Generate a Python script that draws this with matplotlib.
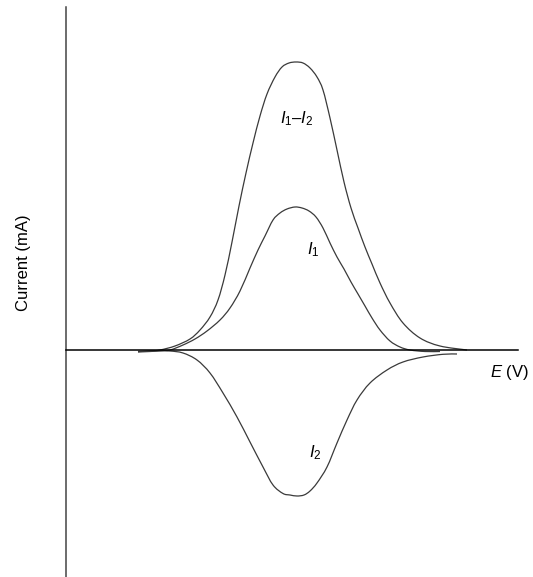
import matplotlib
matplotlib.use("Agg")
import matplotlib.pyplot as plt
from matplotlib.path import Path
from matplotlib.patches import PathPatch

plt.rcParams['font.family'] = ['Liberation Sans', 'DejaVu Sans']
plt.rcParams['mathtext.fontset'] = 'custom'
plt.rcParams['mathtext.it'] = 'Liberation Sans:italic'
plt.rcParams['mathtext.rm'] = 'Liberation Sans'

# potential axis in arbitrary units, current in arbitrary units (0 = baseline)
E_diff = [138, 150, 160, 175, 190, 200, 210, 218, 225, 232, 239, 246, 253, 260,
          267, 275, 282, 289, 296, 303, 310, 317, 323, 330, 337, 344, 351, 358,
          365, 372, 380, 390, 403, 420, 440, 467]
I_diff = [-1.5, -1, 0, 4, 11, 20, 33, 50, 75, 108, 144, 177, 207, 234,
          256, 273, 283, 287, 288, 287, 282, 273, 260, 232, 200, 168, 142, 122,
          103, 86, 67, 47, 27, 12, 4, 0]

E_1 = [138, 150, 160, 170, 183, 195, 207, 220, 230, 240, 250, 258, 265, 273,
       280, 287, 295, 302, 309, 316, 323, 330, 337, 344, 351, 358, 365, 372,
       380, 390, 400, 410, 425, 440]
I_1 = [-1.5, -1, -0.5, 0, 5, 11, 19, 30, 42, 59, 82, 100, 114, 130,
       137, 141, 143, 142, 139, 133, 122, 107, 93, 81, 68, 56, 44, 32,
       20, 9, 3, 0, -1.5, -1.5]

E_2 = [138, 150, 160, 170, 183, 197, 210, 223, 237, 250, 263, 273, 283, 290,
       297, 304, 310, 317, 327, 337, 347, 357, 370, 387, 403, 423, 443, 457]
I_2 = [-2, -1.5, -1, -1, -3, -10, -23, -43, -67, -92, -117, -135, -143.5, -145,
       -146, -145, -141, -133, -117, -93, -70, -50, -33, -20, -12, -7, -4.3, -4]


def smooth_path(xs, ys):
    # Catmull-Rom through the read points, drawn as cubic Bezier segments
    pts = list(zip(xs, ys))
    verts = [pts[0]]
    codes = [Path.MOVETO]
    n = len(pts)
    for i in range(n - 1):
        p0 = pts[max(i - 1, 0)]
        p1 = pts[i]
        p2 = pts[i + 1]
        p3 = pts[min(i + 2, n - 1)]
        c1 = (p1[0] + (p2[0] - p0[0]) / 6.0, p1[1] + (p2[1] - p0[1]) / 6.0)
        c2 = (p2[0] - (p3[0] - p1[0]) / 6.0, p2[1] - (p3[1] - p1[1]) / 6.0)
        verts += [c1, c2, p2]
        codes += [Path.CURVE4] * 3
    return Path(verts, codes)


W, H = 533, 577
fig = plt.figure(figsize=(W / 100, H / 100), dpi=100)
ax = fig.add_axes([66 / W, 0, (518 - 66) / W, (577 - 7) / H])
ax.set_xlim(66, 518)
ax.set_ylim(350 - 577, 350 - 7)

curve_col = '#3a3a3a'
for xs, ys in [(E_diff, I_diff), (E_1, I_1), (E_2, I_2)]:
    ax.add_patch(PathPatch(smooth_path(xs, ys), fill=False,
                           edgecolor=curve_col, lw=0.9))

for s in ['top', 'right']:
    ax.spines[s].set_visible(False)
ax.spines['bottom'].set_position(('data', 0))
ax.spines['bottom'].set_color('black')
ax.spines['bottom'].set_linewidth(1.1)
ax.spines['left'].set_color('#444444')
ax.spines['left'].set_linewidth(1.1)
ax.set_xticks([])
ax.set_yticks([])

ax.text(297, 350 - 119, r'$I_1$' + '\u2013' + r'$I_2$', fontsize=12,
        ha='center', va='center')
ax.text(313, 350 - 250, r'$I_1$', fontsize=12, ha='center', va='center')
ax.text(315, 350 - 453, r'$I_2$', fontsize=12, ha='center', va='center')
ax.text(509, 350 - 373, r'$E$ (V)', fontsize=12, ha='center', va='center',
        clip_on=False)

fig.text(24 / W, 1 - 263 / H, 'Current (mA)', fontsize=12, rotation=90,
         ha='center', va='center')

fig.savefig('out.png', dpi=100)
